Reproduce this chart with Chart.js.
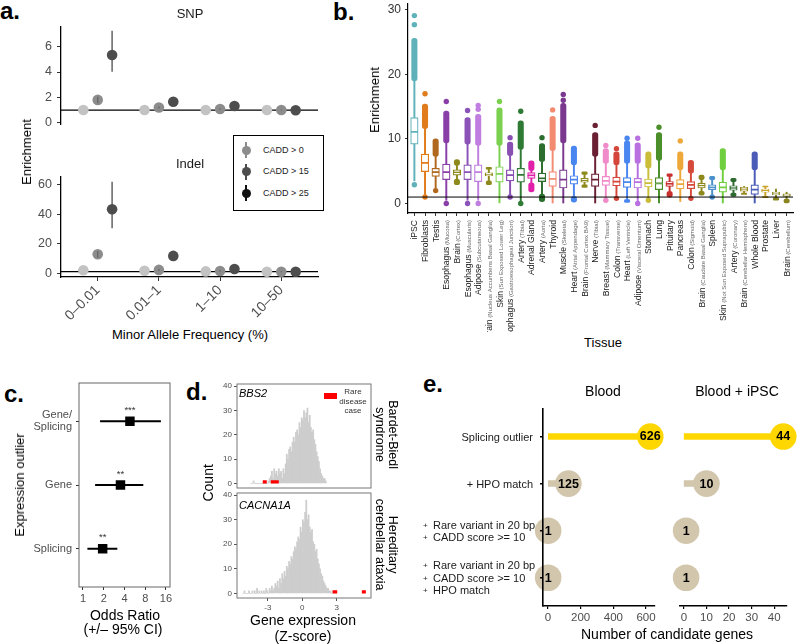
<!DOCTYPE html>
<html>
<head>
<meta charset="utf-8">
<script src="https://cdn.jsdelivr.net/npm/chart.js"></script>
<style>
html,body{margin:0;padding:0;background:#fff;}
body{width:800px;height:644px;overflow:hidden;position:relative;}
canvas{position:absolute;}
</style>
</head>
<body>
<script>
// ================= DATA =================
// Panel a
const mafGroups = ['0–0.01', '0.01–1', '1–10', '10–50'];
const caddLabels = ['CADD > 0', 'CADD > 15', 'CADD > 25'];
const snpCadd0  = [1.0, 1.0, 1.0, 1.0];
const snpCadd15 = [1.8, 1.2, 1.08, 1.0];
const snpCadd25 = [5.34, 1.66, 1.32, 0.98];
const snpLo15 = [1.53, 1.12, 1.02, 0.96];
const snpHi15 = [2.05, 1.28, 1.14, 1.04];
const snpLo25 = [4.02, 1.5, 1.2, 0.9];
const snpHi25 = [7.25, 1.82, 1.44, 1.06];
const indelCadd0  = [2.0, 1.6, 1.2, 1.0];
const indelCadd15 = [12.8, 2.2, 1.5, 1.0];
const indelCadd25 = [43.3, 11.7, 2.8, 0.9];
const indelLo15 = [10.4, 1.5, 1.0, 0.7];
const indelHi15 = [15.0, 2.9, 2.0, 1.3];
const indelLo25 = [30.4, 9.6, 2.0, 0.5];
const indelHi25 = [62.0, 13.8, 3.6, 1.3];

// Panel b
const tissues = ['iPSC','Fibroblasts','Testis','Esophagus (Mucosa)','Brain (Cortex)','Esophagus (Muscularis)','Adipose (Subcutaneous)','Brain (Nucleus Accumbens Basal Ganglia)','Skin (Sun Exposed Lower Leg)','Esophagus (Gastroesophageal Junction)','Artery (Tibial)','Adrenal Gland','Artery (Aorta)','Thyroid','Muscle (Skeletal)','Heart (Atrial Appendage)','Brain (Frontal Cortex BA9)','Nerve (Tibial)','Breast (Mammary Tissue)','Colon (Transverse)','Heart (Left Ventricle)','Adipose (Visceral Omentum)','Stomach','Lung','Pituitary','Pancreas','Colon (Sigmoid)','Brain (Caudate Basal Ganglia)','Spleen','Skin (Not Sun Exposed Suprapubic)','Artery (Coronary)','Brain (Cerebellar Hemisphere)','Whole Blood','Prostate','Liver','Brain (Cerebellum)'];
const tissueColors = ['#5fb2ba','#e07c1c','#b0681e','#8a3fa8','#8d891c','#8b52b8','#c07fe0','#8d891c','#7bd14f','#8a4fb2','#2f7a34','#e020a8','#2c6e2e','#f28b70','#7a388e','#4a86f0','#8d891c','#6b1f33','#f08ac8','#d5463a','#4a86f0','#b870e0','#c9bd3a','#4a8f2a','#c8302f','#eea83a','#d64a3a','#8d891c','#4a90cc','#6fcf3f','#2e6b30','#9a8a20','#4a5cb8','#c9a22a','#8a8520','#8a8520'];
const q1  = [9.2,4.95,4.2,3.7,4.4,3.7,3.4,4.3,3.3,3.5,3.3,3.9,3.4,2.65,2.4,3.0,3.3,2.65,2.8,2.75,2.5,2.4,2.55,2.15,2.65,2.25,2.3,2.4,2.15,1.75,2.05,1.9,1.4,1.75,1.35,1.1];
const med = [11.1,6.3,4.85,4.85,4.85,4.85,4.85,4.5,4.6,4.4,4.45,4.35,3.9,3.8,3.7,3.7,3.6,3.7,3.5,3.4,3.3,3.3,3.15,3.1,3.05,3.0,2.9,2.8,2.5,2.5,2.4,2.25,2.15,2.0,1.55,1.3];
const q3  = [13.3,7.65,5.45,6.1,5.2,6.0,6.0,4.75,5.7,5.2,5.45,4.8,4.7,4.95,5.2,4.3,3.9,4.6,4.2,4.1,4.0,3.9,3.8,4.0,3.4,3.7,3.4,3.15,2.9,3.3,2.75,2.5,2.9,2.25,1.75,1.5];
const wLo = [3.5,1.4,2.4,0.5,3.8,0.5,0.5,3.5,0.1,1.3,0.4,3.2,1.45,0.0,0.0,1.1,2.9,0.0,0.6,1.0,0.6,0.4,0.6,0.0,1.9,0.3,0.9,1.9,1.3,0.0,1.6,1.6,0.0,1.1,0.9,0.7];
const wHi = [19.0,11.6,7.3,9.4,5.9,9.2,9.0,5.3,9.0,7.4,8.4,5.1,6.5,8.2,9.4,6.0,4.5,7.3,6.2,6.0,6.2,6.2,5.5,6.7,4.2,5.2,4.7,3.7,3.7,5.2,3.4,2.65,5.2,2.55,2.25,1.75];
const hiTop = [25.6,15.4,10.0,14.3,6.8,13.3,13.8,5.6,14.8,9.5,12.8,6.6,9.3,13.5,15.5,8.9,4.9,11.0,8.5,8.0,9.7,9.4,8.0,11.0,4.6,8.0,6.7,4.4,4.2,8.5,3.9,null,8.0,2.7,null,null];
const loBot = [null,null,null,null,2.9,null,null,2.9,null,null,null,1.8,0.3,null,null,0.2,2.5,null,null,null,0.15,null,null,null,1.0,null,null,1.3,null,null,1.1,1.4,null,0.9,0.5,0.1];
const extraPts = [[27.7,29.1,2.9],[17.0,1.0],[2.0],[15.8,0.0],[],[14.4,0.0],[14.6,15.2,0.0],[],[15.8],[10.2,1.0],[14.3,0.0],[],[10.2],[14.5],[16.0,16.9],[],[],[12.1],[9.0,0.5],[8.5,0.8],[10.1],[10.1,0.0],[0.5],[11.8],[],[9.7],[0.8],[],[1.0],[],[],[],[],[],[],[]];

// Panel c
const outlierTypes = ['Splicing', 'Gene', 'Gene/\nSplicing'];
const oddsRatio = [1.93, 3.5, 4.8];
const ciLo = [1.16, 1.5, 1.77];
const ciHi = [3.15, 7.5, 13.5];
const signif = ['**', '**', '***'];

// Panel d (histograms, bin width 0.1)
const binWidth = 0.1;
const bbs2Start = -4.5;
const bbs2Counts = [0,0,1,0,0,0,0,0,0,0,0,0,0,0,0,1,2,3,5,2,6,4,5,3,6,4,5,2,6,4,8,12,10,14,15,13,17,19,17,21,22,20,25,23,27,26,30,27,29,31,25,28,23,21,22,18,16,13,11,9,6,4,3,2,2,1];
const cacnaStart = -5.2;
const cacnaCounts = [0,1,0,0,0,1,0,0,1,0,1,0,2,0,1,0,1,0,1,0,2,1,0,2,1,3,1,2,4,3,5,2,6,4,8,6,9,7,11,10,13,12,15,14,17,19,18,21,23,22,27,25,30,29,33,38,30,32,27,25,26,21,20,17,18,14,12,10,8,7,5,4,3,2,2,1,1,0,1];
const bbs2Cases = [[-3.45, -3.1], [-2.75, -2.05]];
const cacnaCases = [[2.65, 3.05], [5.2, 5.55]];

// Panel e
const filterSteps = ['Splicing outlier', '+ HPO match', '+ Rare variant in 20 bp\n+ CADD score >= 10', '+ Rare variant in 20 bp\n+ CADD score >= 10\n+ HPO match'];
const bloodCounts = [626, 125, 1, 1];
const bloodIpscCounts = [44, 10, 1, 1];

// ================= HELPERS =================
const FONT = '"Liberation Sans", Arial, Helvetica, sans-serif';
Chart.defaults.font.family = FONT;
Chart.defaults.color = '#4d4d4d';

function T(x, y, s, fs, o = {}) {
  const d = document.createElement('div');
  d.textContent = s;
  const asc = 0.8465 * fs;
  const fr = o.a === 'm' ? 50 : o.a === 'r' ? 100 : 0;
  d.style.cssText = `position:absolute;left:${x}px;top:${y - asc}px;font-family:${FONT};font-size:${fs}px;font-weight:${o.b ? 'bold' : 'normal'};font-style:${o.i ? 'italic' : 'normal'};line-height:1;white-space:nowrap;color:${o.c || '#000'};transform-origin:0 ${asc}px;transform:rotate(${o.r || 0}deg) translateX(-${fr}%);`;
  document.body.appendChild(d);
}
function R(x, y, w, h, css) {
  const d = document.createElement('div');
  d.style.cssText = `position:absolute;left:${x}px;top:${y}px;width:${w}px;height:${h}px;box-sizing:border-box;${css}`;
  document.body.appendChild(d);
}
function mk(box, area, yw, xh, cfg) {
  const c = document.createElement('canvas');
  c.width = box.w; c.height = box.h;
  c.style.left = box.x + 'px'; c.style.top = box.y + 'px';
  c.style.width = box.w + 'px'; c.style.height = box.h + 'px';
  document.body.appendChild(c);
  const o = cfg.options = cfg.options || {};
  o.responsive = false; o.animation = false; o.devicePixelRatio = 1;
  o.layout = { padding: { left: area.l - box.x - yw, top: area.t - box.y, right: box.x + box.w - area.r, bottom: box.y + box.h - area.b - xh } };
  for (const k in o.scales) {
    const isX = k[0] === 'x';
    o.scales[k].afterFit = sc => {
      if (isX) sc.height = xh; else sc.width = yw;
      sc.paddingLeft = sc.paddingRight = sc.paddingTop = sc.paddingBottom = 0;
    };
  }
  o.plugins = Object.assign({ legend: { display: false }, tooltip: { enabled: false } }, o.plugins || {});
  return new Chart(c, cfg);
}
const fixTicks = arr => s => { s.ticks = arr.map(v => ({ value: v })); };
const boxPlugin = (color, lw) => ({ id: 'boxb', afterDatasetsDraw(ch) {
  const a = ch.chartArea, c = ch.ctx; c.save(); c.strokeStyle = color; c.lineWidth = lw;
  c.strokeRect(a.left, a.top, a.right - a.left, a.bottom - a.top); c.restore(); } });

// ================= PANEL LETTERS =================
T(0, 19.5, 'a.', 24, { b: 1 });
T(333, 20, 'b.', 24, { b: 1 });
T(4, 402, 'c.', 24, { b: 1 });
T(186, 400, 'd.', 24, { b: 1 });
T(423, 392, 'e.', 24, { b: 1 });

// ================= PANEL A =================
const dodge = [-0.235, 0, 0.235];
const aPointColors = ['#c3c3c3', '#8c8c8c', '#4d4d4d'];
const aErrColors = ['#999999', '#666666', '#4d4d4d'];
function aChart(box, area, yMin, yMax, yTicks, vals, los, his, showX) {
  const ds = [];
  vals.forEach((v, k) => ds.push({ type: 'scatter', data: v.map((y, i) => ({ x: i + 1 + dodge[k], y })),
    backgroundColor: aPointColors[k], pointRadius: 5.3, pointBorderWidth: 0, order: 2 }));
  los.forEach((lo, kk) => {
    const k = kk + 1, d = [];
    lo.forEach((l, i) => { const x = i + 1 + dodge[k]; d.push({ x, y: l }, { x, y: his[kk][i] }, { x, y: null }); });
    ds.push({ type: 'line', data: d, borderColor: aErrColors[k], borderWidth: 1.3, pointRadius: 0, spanGaps: false, order: 1 });
  });
  ds.push({ type: 'line', data: [{ x: 0.4, y: 1 }, { x: 4.6, y: 1 }], borderColor: '#000', borderWidth: 1.3, pointRadius: 0, order: 3 });
  return mk(box, area, 40, showX ? 43 : 0, {
    type: 'scatter', data: { datasets: ds },
    options: { scales: {
      x: { type: 'linear', min: 0.4, max: 4.6, display: showX, afterBuildTicks: fixTicks([1, 2, 3, 4]),
        ticks: { callback: v => mafGroups[v - 1], minRotation: 45, maxRotation: 45, autoSkip: false, font: { size: 14 }, color: '#4d4d4d', padding: 1 },
        grid: { display: true, drawOnChartArea: false, tickLength: 4, color: '#333' }, border: { color: '#000', width: 1.3 } },
      y: { type: 'linear', min: yMin, max: yMax, afterBuildTicks: fixTicks(yTicks),
        ticks: { font: { size: 12.5 }, color: '#4d4d4d', padding: 5 },
        grid: { display: true, drawOnChartArea: false, tickLength: 4, color: '#333' }, border: { color: '#000', width: 1.3 } }
    } }
  });
}
aChart({ x: 0, y: 20, w: 330, h: 110 }, { l: 61, t: 27, r: 318, b: 124 }, -0.1, 7.55, [0, 2, 4, 6],
  [snpCadd0, snpCadd15, snpCadd25], [snpLo15, snpLo25], [snpHi15, snpHi25], false);
aChart({ x: 0, y: 170, w: 330, h: 155 }, { l: 61, t: 177, r: 318, b: 277 }, -2.6, 65.2, [0, 20, 40, 60],
  [indelCadd0, indelCadd15, indelCadd25], [indelLo15, indelLo25], [indelHi15, indelHi25], true);
T(190, 18, 'SNP', 13, { a: 'm', c: '#1a1a1a' });
T(190, 168, 'Indel', 13, { a: 'm', c: '#1a1a1a' });
T(190, 339, 'Minor Allele Frequency (%)', 13, { a: 'm' });
T(31, 152, 'Enrichment', 13, { a: 'm', r: -90 });
// legend
const legendColors = ['#8c8c8c', '#4d4d4d', '#111111'];
R(233, 135, 91, 76, 'border:1.5px solid #000;background:#fff;');
caddLabels.forEach((lab, k) => {
  const cy = 150 + k * 21.7;
  R(245.4, cy - 8, 1.2, 16, `background:${legendColors[k]};`);
  R(241.5, cy - 4.5, 9, 9, `border-radius:50%;background:${legendColors[k]};`);
  T(263, cy + 3.2, lab, 9, { c: '#222' });
});

// ================= PANEL B =================
const tcol = c => tissueColors[((c.raw && c.raw.x) ? c.raw.x : 1) - 1];
const bDatasets = [
  { type: 'line', data: [{ x: 0.4, y: 1 }, { x: 36.6, y: 1 }], borderColor: '#000', borderWidth: 1, pointRadius: 0, order: 0 },
  { type: 'bar', data: tissues.map((t, i) => ({ x: i + 1, y: [q1[i], med[i]] })), backgroundColor: '#fff', borderColor: tcol, borderWidth: 1.2, borderSkipped: false, barThickness: 7.5, grouped: false, order: 1 },
  { type: 'bar', data: tissues.map((t, i) => ({ x: i + 1, y: [med[i], q3[i]] })), backgroundColor: '#fff', borderColor: tcol, borderWidth: 1.2, borderSkipped: false, barThickness: 7.5, grouped: false, order: 1 },
  { type: 'bar', data: tissues.map((t, i) => ({ x: i + 1, y: [wLo[i], q1[i]] })), backgroundColor: tcol, borderWidth: 0, barThickness: 1.3, grouped: false, order: 2 },
  { type: 'bar', data: tissues.map((t, i) => ({ x: i + 1, y: [q3[i], wHi[i]] })), backgroundColor: tcol, borderWidth: 0, barThickness: 1.3, grouped: false, order: 2 },
  { type: 'bar', data: hiTop.map((v, i) => v == null ? null : { x: i + 1, y: [wHi[i], v] }).filter(Boolean), backgroundColor: tcol, borderWidth: 0, borderSkipped: false, borderRadius: 2.7, barThickness: 5.4, grouped: false, order: 3 },
  { type: 'bar', data: loBot.map((v, i) => v == null ? null : { x: i + 1, y: [v, wLo[i]] }).filter(Boolean), backgroundColor: tcol, borderWidth: 0, borderSkipped: false, borderRadius: 2.7, barThickness: 5.4, grouped: false, order: 3 },
  { type: 'scatter', data: extraPts.flatMap((arr, i) => arr.map(v => ({ x: i + 1, y: v }))), backgroundColor: tcol, pointRadius: 2.7, pointBorderWidth: 0, order: 3 }
];
const tissueLabelPlugin = { id: 'tl', afterDraw(ch) {
  const ctx = ch.ctx, xs = ch.scales.x, y0 = ch.chartArea.bottom + 7;
  tissues.forEach((t, i) => {
    const m = t.match(/^([^(]*?)(\s*\(.*\))?$/);
    const main = m[1], sub = m[2] ? ' ' + m[2].trim() : '';
    const x = xs.getPixelForValue(i + 1);
    ctx.save(); ctx.translate(x, y0); ctx.rotate(-Math.PI / 2);
    ctx.textAlign = 'left'; ctx.textBaseline = 'alphabetic';
    const fMain = '8.6px ' + FONT, fSub = '6px ' + FONT;
    ctx.font = fMain; const w1 = ctx.measureText(main).width;
    ctx.font = fSub; const w2 = ctx.measureText(sub).width;
    const sx = -(w1 + w2);
    ctx.font = fMain; ctx.fillStyle = '#1a1a1a'; ctx.fillText(main, sx, 3.1);
    if (sub) { ctx.font = fSub; ctx.fillStyle = '#666'; ctx.fillText(sub, sx + w1, 3.1); }
    ctx.restore();
  });
} };
mk({ x: 340, y: 0, w: 460, h: 332 }, { l: 408, t: 2.2, r: 793, b: 213 }, 40, 10, {
  type: 'bar', data: { datasets: bDatasets },
  options: { scales: {
    x: { type: 'linear', min: 0.4, max: 36.6, offset: false, afterBuildTicks: fixTicks(tissues.map((t, i) => i + 1)),
      ticks: { display: false }, grid: { display: true, offset: false, drawOnChartArea: false, tickLength: 3, color: '#333' }, border: { color: '#000', width: 1.2 } },
    y: { type: 'linear', min: -1.47, max: 30.9, afterBuildTicks: fixTicks([0, 10, 20, 30]),
      ticks: { font: { size: 12 }, color: '#333', padding: 4 }, grid: { display: true, drawOnChartArea: false, tickLength: 3, color: '#333' }, border: { color: '#000', width: 1.2 } }
  } },
  plugins: [tissueLabelPlugin]
});
T(379, 100, 'Enrichment', 13, { a: 'm', r: -90 });
T(603, 347, 'Tissue', 13, { a: 'm' });

// ================= PANEL C =================
const ciSegs = [];
oddsRatio.forEach((v, i) => ciSegs.push({ x: ciLo[i], y: i + 1 }, { x: ciHi[i], y: i + 1 }, { x: ciHi[i], y: null }));
const starsPlugin = { id: 'stars', afterDatasetsDraw(ch) {
  const ctx = ch.ctx, xs = ch.scales.x, ys = ch.scales.y;
  ctx.save(); ctx.font = '9.5px ' + FONT; ctx.fillStyle = '#333'; ctx.textAlign = 'center'; ctx.textBaseline = 'middle';
  oddsRatio.forEach((v, i) => ctx.fillText(signif[i], xs.getPixelForValue(v), ys.getPixelForValue(i + 1) - 11));
  ctx.restore();
} };
mk({ x: 0, y: 370, w: 185, h: 240 }, { l: 79, t: 383, r: 170, b: 587 }, 70, 20, {
  type: 'scatter',
  data: { datasets: [
    { type: 'line', data: ciSegs, borderColor: '#000', borderWidth: 1.8, pointRadius: 0, spanGaps: false, order: 2 },
    { type: 'scatter', data: oddsRatio.map((v, i) => ({ x: v, y: i + 1 })), pointStyle: 'rect', pointRadius: 6.7, backgroundColor: '#000', pointBorderWidth: 0, order: 1 }
  ] },
  options: { scales: {
    x: { type: 'logarithmic', min: 0.876, max: 18.3, afterBuildTicks: fixTicks([1, 2, 4, 8, 16]),
      ticks: { callback: v => String(v), font: { size: 11 }, color: '#4d4d4d', padding: 2 },
      grid: { display: true, drawOnChartArea: false, tickLength: 3, color: '#333' }, border: { display: false } },
    y: { type: 'linear', min: 0.4, max: 3.6, afterBuildTicks: fixTicks([1, 2, 3]),
      ticks: { callback: v => outlierTypes[v - 1].split('\n'), font: { size: 11, lineHeight: 1.1 }, color: '#4d4d4d', padding: 4 },
      grid: { display: true, drawOnChartArea: false, tickLength: 3, color: '#333' }, border: { display: false } }
  } },
  plugins: [boxPlugin('#666', 1), starsPlugin]
});
T(24, 485, 'Expression outlier', 13, { a: 'm', r: -90 });
T(125, 620, 'Odds Ratio', 14, { a: 'm' });
T(123, 634, '(+/– 95% CI)', 14, { a: 'm' });

// ================= PANEL D =================
function histChart(box, area, start, counts, cases, showX) {
  const caseSegs = [];
  cases.forEach(c => caseSegs.push({ x: c[0], y: 0.6 }, { x: c[1], y: 0.6 }, { x: c[1], y: null }));
  return mk(box, area, 30, showX ? 18 : 0, {
    type: 'bar',
    data: { datasets: [
      { type: 'line', data: caseSegs, borderColor: '#ff0000', borderWidth: 3.2, borderCapStyle: 'butt', pointRadius: 0, spanGaps: false, order: 0 },
      { type: 'bar', data: counts.map((c, i) => ({ x: start + (i + 0.5) * binWidth, y: c })), backgroundColor: '#cdcdcd', borderWidth: 0, barPercentage: 1, categoryPercentage: 1, order: 1 }
    ] },
    options: { scales: {
      x: { type: 'linear', min: -5.7, max: 6.0, offset: false, display: showX, afterBuildTicks: fixTicks([-3, 0, 3]),
        ticks: { font: { size: 8 }, color: '#4d4d4d', padding: 2 },
        grid: { display: true, offset: false, drawOnChartArea: false, tickLength: 3, color: '#555' }, border: { display: false } },
      y: { type: 'linear', min: -1.9, max: 40.9, afterBuildTicks: fixTicks([0, 10, 20, 30, 40]),
        ticks: { font: { size: 8 }, color: '#4d4d4d', padding: 2 },
        grid: { display: true, drawOnChartArea: false, tickLength: 3, color: '#555' }, border: { display: false } }
    } },
    plugins: [boxPlugin('#777', 1)]
  });
}
histChart({ x: 185, y: 378, w: 195, h: 112 }, { l: 237, t: 384, r: 371, b: 488 }, bbs2Start, bbs2Counts, bbs2Cases, false);
histChart({ x: 185, y: 490, w: 195, h: 130 }, { l: 237, t: 493, r: 371, b: 598 }, cacnaStart, cacnaCounts, cacnaCases, true);
T(239, 397, 'BBS2', 11, { i: 1 });
T(239, 509, 'CACNA1A', 11, { i: 1 });
R(323.5, 393, 13.5, 5.5, 'background:#ff0000;');
T(353, 395, 'Rare', 8, { a: 'm', c: '#333' });
T(353, 405, 'disease', 8, { a: 'm', c: '#333' });
T(353, 414, 'case', 8, { a: 'm', c: '#333' });
T(388, 435, 'Bardet-Biedl', 12.5, { a: 'm', r: 90 });
T(375, 435, 'syndrome', 12.5, { a: 'm', r: 90 });
T(388, 545, 'Hereditary', 12.5, { a: 'm', r: 90 });
T(375, 545, 'cerebellar ataxia', 12.5, { a: 'm', r: 90 });
T(213, 483, 'Count', 14, { a: 'm', r: -90 });
T(303, 625, 'Gene expression', 14, { a: 'm' });
T(303, 641, '(Z-score)', 14, { a: 'm' });

// ================= PANEL E =================
const yellow = '#FFD700', tan = '#D2C6AC';
const stepColors = [yellow, tan, tan, tan];
function lolliDatasets(vals) {
  const segs = f => { const d = []; vals.forEach((v, i) => { if (f(i)) d.push({ x: 0, y: i + 1 }, { x: v, y: i + 1 }, { x: v, y: null }); }); return d; };
  return [
    { type: 'line', data: segs(i => stepColors[i] === yellow), borderColor: yellow, borderWidth: 6.5, borderCapStyle: 'butt', pointRadius: 0, spanGaps: false, order: 2, clip: false },
    { type: 'line', data: segs(i => stepColors[i] !== yellow), borderColor: tan, borderWidth: 6.5, borderCapStyle: 'butt', pointRadius: 0, spanGaps: false, order: 2, clip: false },
    { type: 'scatter', data: vals.map((v, i) => ({ x: v, y: i + 1 })), backgroundColor: stepColors, pointRadius: 13.3, pointBorderWidth: 0, order: 1, clip: false }
  ];
}
const countLabelPlugin = vals => ({ id: 'cl', afterDatasetsDraw(ch) {
  const ctx = ch.ctx, meta = ch.getDatasetMeta(2);
  ctx.save(); ctx.font = 'bold 12.5px ' + FONT; ctx.fillStyle = '#000'; ctx.textAlign = 'center'; ctx.textBaseline = 'middle';
  meta.data.forEach((el, i) => ctx.fillText(String(vals[i]), el.x, el.y + 0.5));
  ctx.restore();
} });
const stepLabelPlugin = { id: 'sl', afterDraw(ch) {
  const ctx = ch.ctx, ys = ch.scales.y, right = ch.chartArea.left - 10;
  ctx.save(); ctx.fillStyle = '#1a1a1a'; ctx.textBaseline = 'alphabetic';
  filterSteps.forEach((s, i) => {
    const yc = ys.getPixelForValue(i + 1), lines = s.split('\n');
    if (lines.length === 1) {
      ctx.font = '11px ' + FONT; ctx.textAlign = 'right'; ctx.fillText(lines[0], right, yc + 4);
    } else {
      lines.forEach((ln, j) => {
        const yb = yc + 4 + (j - (lines.length - 1) / 2) * 12.3;
        ctx.textAlign = 'left';
        ctx.font = '8px ' + FONT; ctx.fillText('+', ch.chartArea.left - 120, yb - 1);
        ctx.font = '11px ' + FONT; ctx.fillText(ln.replace(/^\+\s*/, ''), ch.chartArea.left - 110, yb);
      });
    }
  });
  ctx.restore();
} };
function eScales(xMin, xMax, xTicks, showY) {
  return {
    x: { type: 'linear', min: xMin, max: xMax, afterBuildTicks: fixTicks(xTicks),
      ticks: { font: { size: 11.5 }, color: '#4d4d4d', padding: 2 },
      grid: { display: true, drawOnChartArea: false, tickLength: 3, color: '#000', lineWidth: 1.2, z: 1 }, border: { color: '#000', width: 1.6, z: 1 } },
    y: { type: 'linear', min: 0.4, max: 4.6, reverse: true, display: showY, afterBuildTicks: fixTicks([1, 2, 3, 4]),
      ticks: { display: false },
      grid: { display: true, drawOnChartArea: false, tickLength: 3, color: '#000', lineWidth: 1.4, z: 1 }, border: { color: '#000', width: 1.6, z: 1 } }
  };
}
mk({ x: 420, y: 395, w: 250, h: 245 }, { l: 543, t: 402, r: 655, b: 606 }, 3, 22, {
  type: 'scatter', data: { datasets: lolliDatasets(bloodCounts) },
  options: { scales: eScales(-30.6, 655, [0, 200, 400, 600], true) },
  plugins: [countLabelPlugin(bloodCounts), stepLabelPlugin]
});
mk({ x: 660, y: 395, w: 140, h: 245 }, { l: 680, t: 402, r: 791, b: 606 }, 0, 22, {
  type: 'scatter', data: { datasets: lolliDatasets(bloodIpscCounts) },
  options: { scales: eScales(-1.7, 45.5, [0, 10, 20, 30, 40], false) },
  plugins: [countLabelPlugin(bloodIpscCounts)]
});
T(603, 396, 'Blood', 14, { a: 'm' });
T(737, 396, 'Blood + iPSC', 14, { a: 'm' });
T(667, 639, 'Number of candidate genes', 14, { a: 'm' });
</script>
</body>
</html>
